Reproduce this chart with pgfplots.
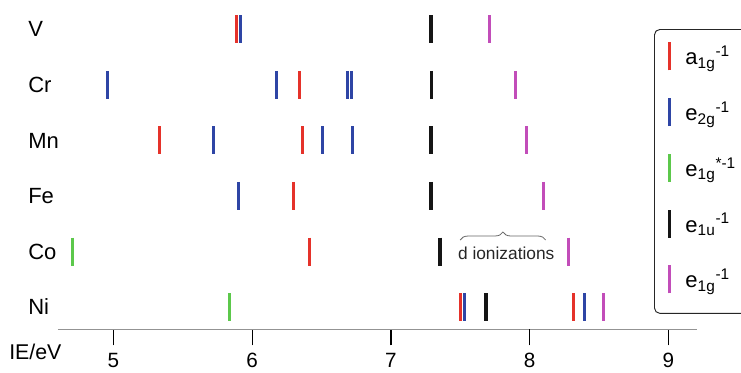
\documentclass[border=0pt]{standalone}
\usepackage{fontspec}
\setmainfont{Liberation Sans}
\usepackage{pgfplots}
\pgfplotsset{compat=1.18}
\usetikzlibrary{decorations.pathreplacing}
\definecolor{cRed}{HTML}{E5322A}
\definecolor{cBlue}{HTML}{2E45A5}
\definecolor{cGreen}{HTML}{5CC84B}
\definecolor{cBlack}{HTML}{151515}
\definecolor{cMag}{HTML}{C24DB9}
\begin{document}
\begin{tikzpicture}
\begin{axis}[
  scale only axis, width=479pt, height=247pt,
  xmin=4.6, xmax=9.205, ymin=0.598, ymax=6.53,
  axis x line*=bottom, axis y line*=left,
  y axis line style={draw=none},
  x axis line style={draw=gray!85, line width=1.1pt, -},
  xtick={5,6,7,9},
  extra x ticks={8},
  extra x tick style={major tick style={line width=2.2pt, black}},
  tick align=outside,
  major tick length=12pt,
  xtick style={black, line width=1pt},
  ytick style={draw=none},
  ytick={1,2,3,4,5,6},
  yticklabels={Ni,Co,Fe,Mn,Cr,V},
  yticklabel style={anchor=west, inner sep=0pt, xshift=-10.5pt, font=\fontsize{16.5}{18}\selectfont},
  /pgf/number format/assume math mode=true,
  xticklabel style={font=\fontsize{15.5}{17}\selectfont, inner sep=0pt, yshift=-5.8pt},
  xlabel={IE/eV},
  xlabel style={at={(rel axis cs:0,0)}, anchor=base west, inner sep=0pt, xshift=-36.75pt, yshift=-22.8pt, font=\fontsize{16}{18}\selectfont},
  clip=false,
  legend cell align=left,
  legend style={at={(rel axis cs:0.9332,0.9119)}, anchor=north west, draw=black!85, line width=0.7pt, rounded corners=4pt, inner xsep=10pt, inner ysep=1.95pt, row sep=0pt, column sep=0pt, font=\fontsize{16.5}{18}\selectfont, nodes={inner sep=0pt, text width=52pt, align=left}},
  legend image code/.code={\draw[#1, line width=2.3pt] (0pt,-10.5pt) -- (0pt,10.5pt); \path[draw=none] (-1.25pt,-23.5pt) -- (12pt,18.3pt);},
  every axis plot/.append style={only marks, mark=|, mark size=10.5pt, mark options={line width=2.3pt, solid}},
]
\addplot[cRed] coordinates {(5.885,6) (6.342,5) (5.33,4) (6.366,4) (6.30,3) (6.41,2) (7.503,1) (8.318,1)};
\addlegendentry{a\textsubscript{1g}\textsuperscript{-1}}
\addplot[cBlue] coordinates {(5.914,6) (4.96,5) (6.177,5) (6.686,5) (6.717,5) (5.72,4) (6.51,4) (6.725,4) (5.90,3) (7.532,1) (8.397,1)};
\addlegendentry{e\textsubscript{2g}\textsuperscript{-1}}
\addplot[cGreen] coordinates {(4.706,2) (5.838,1)};
\addlegendentry{e\textsubscript{1g}\textsuperscript{*-1}}
\addplot[cBlack, mark options={line width=2.6pt}] coordinates {(7.289,6) (7.294,5) (7.289,4) (7.29,3) (7.354,2) (7.686,1)};
\addlegendentry{e\textsubscript{1u}\textsuperscript{-1}}
\addplot[cMag] coordinates {(7.709,6) (7.897,5) (7.98,4) (8.099,3) (8.284,2) (8.531,1)};
\addlegendentry{e\textsubscript{1g}\textsuperscript{-1}}
\draw[decorate, decoration={brace, amplitude=6pt}, black!60, line width=0.6pt] (axis cs:7.50,2.207) -- (axis cs:8.116,2.207);
\node[anchor=base, inner sep=0pt, font=\fontsize{13}{15}\selectfont, text=black!85] at (axis cs:7.832,1.847) {d ionizations};
\end{axis}
\pgfresetboundingbox
\useasboundingbox (-43.5pt,-32pt) rectangle (512.25pt,247pt);
\end{tikzpicture}
\end{document}
